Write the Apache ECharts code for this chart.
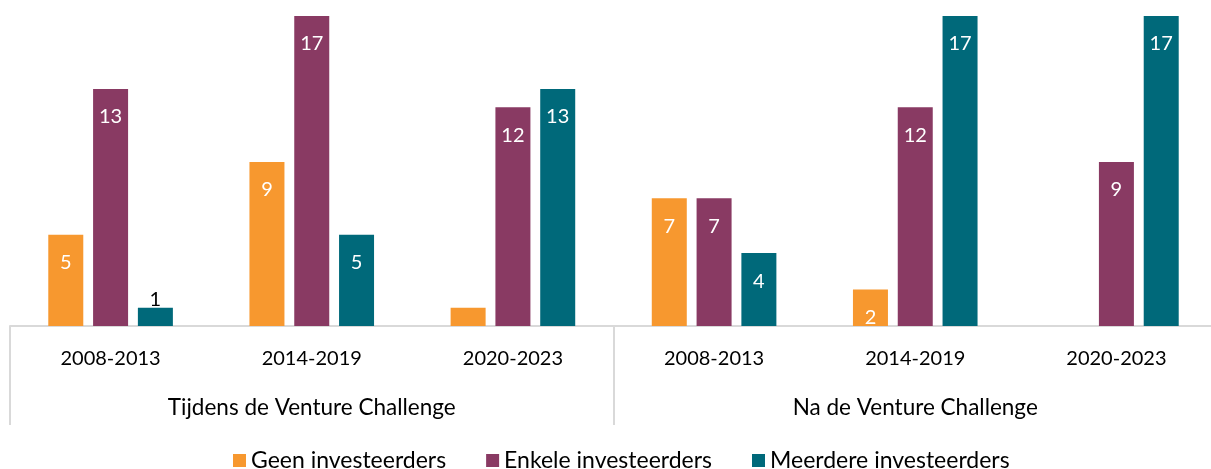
<!DOCTYPE html>
<html>
<head>
<meta charset="utf-8">
<script src="https://cdn.jsdelivr.net/npm/echarts@6/dist/echarts.min.js"></script>
<style>
 html, body { margin: 0; padding: 0; background: #fff; }
 #chart { width: 1211px; height: 469px; }
</style>
</head>
<body>
<div id="chart"></div>
<script>
 // categorieen: periode binnen elke fase
 var periods = ['2008-2013', '2014-2019', '2020-2023', '2008-2013', '2014-2019', '2020-2023'];
 var phases = ['Tijdens de Venture Challenge', 'Na de Venture Challenge'];
 var seriesNames = ['Geen investeerders', 'Enkele investeerders', 'Meerdere investeerders'];
 // waarden per reeks (Tijdens x3, Na x3)
 var geen = [5, 9, 1, 7, 2, 0];
 var enkele = [13, 17, 12, 7, 12, 9];
 var meerdere = [1, 5, 13, 4, 17, 17];
 var colors = ['#F7982F', '#893A63', '#00697A'];

 var font = 'Lato, "Open Sans", sans-serif';

 // bouw data: 0 = geen balk, 1 = label boven de balk
 function buildData (values, sIdx) {
     return values.map(function (v, i) {
         if (v === 0) return '-';
         if (v <= 1) {
             // oranje balk 2020-2023 heeft geen label in het origineel
             if (sIdx === 0) return { value: v, label: { show: false } };
             return { value: v, label: { position: 'top', distance: -2, color: '#000' } };
         }
         return v;
     });
 }

 var myChart = echarts.init(document.getElementById('chart'));
 var allValues = [geen, enkele, meerdere];
 var series = [];
 for (var s = 0; s < 3; s++) {
     series.push({
         name: seriesNames[s],
         type: 'bar',
         barWidth: 35,
         barGap: '28%',
         itemStyle: { color: colors[s] },
         label: {
             show: true,
             position: 'insideTop',
             distance: 18,
             color: '#fff',
             fontFamily: font,
             fontSize: 20
         },
         data: buildData(allValues[s], s)
     });
 }

 var option = {
     animation: false,
     color: colors,
     grid: { left: 10, width: 1207, top: 16, bottom: 143, outerBoundsMode: 'none' },
     legend: {
         data: seriesNames,
         top: 444,
         left: 228,
         itemWidth: 13,
         itemHeight: 13,
         itemGap: 40,
         icon: 'rect',
         textStyle: { fontFamily: font, fontSize: 23, color: '#000' }
     },
     xAxis: [
         {
             type: 'category',
             data: periods,
             position: 'bottom',
             axisLine: { lineStyle: { color: '#d9d9d9', width: 2 } },
             axisTick: { show: false },
             axisLabel: { margin: 23, color: '#000', fontFamily: font, fontSize: 20 }
         },
         {
             type: 'category',
             data: phases,
             position: 'bottom',
             axisLine: { show: false },
             axisTick: { show: true, length: 99, lineStyle: { color: '#d9d9d9', width: 2 } },
             axisLabel: { margin: 70, color: '#000', fontFamily: font, fontSize: 22.5 }
         }
     ],
     yAxis: {
         type: 'value',
         min: 0,
         max: 17,
         show: false,
         splitLine: { show: false }
     },
     series: series
 };
 myChart.setOption(option);
</script>
</body>
</html>
